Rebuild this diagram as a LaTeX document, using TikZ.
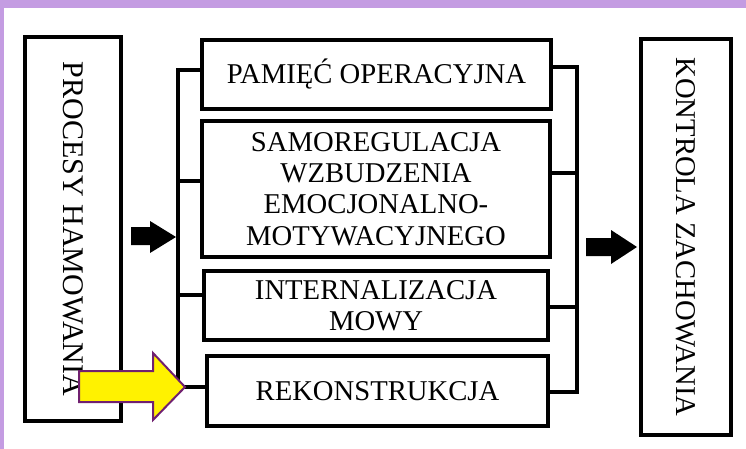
\documentclass[tikz,border=0pt]{standalone}
\usepackage{fontspec}
\setmainfont{Liberation Serif}
\tikzset{every picture/.style={line width=0.75pt}}
\definecolor{lavender}{RGB}{196,156,226}
\definecolor{plumline}{RGB}{112,32,112}

\begin{document}
\begin{tikzpicture}[x=0.75pt,y=0.75pt,yscale=-1,xscale=1,
  box/.style={draw, line width=3pt, inner sep=0pt, align=center, font=\fontsize{21.5}{23.5}\selectfont},
  wire/.style={line width=3pt}]
\useasboundingbox (0,0) rectangle (746,449);

%Frame
\fill[lavender] (0,0) rectangle (746,8);
\fill[lavender] (0,0) rectangle (4,449);

%Side boxes
\node[box, rotate=-90, minimum width=288pt, minimum height=72pt, font=\fontsize{22.5}{24}\selectfont] (procesy) at (73,229) {PROCESY HAMOWANIA};
\node[box, rotate=-90, minimum width=297pt, minimum height=67.5pt] (kontrola) at (686,237) {KONTROLA ZACHOWANIA};

%Middle boxes
\node[box, minimum width=261.75pt, minimum height=51.75pt] (pamiec) at (376.5,74.5) {PAMIĘĆ OPERACYJNA};
\node[box, minimum width=261pt, minimum height=102pt] (samoreg) at (376,189) {SAMOREGULACJA\\WZBUDZENIA\\EMOCJONALNO-\\MOTYWACYJNEGO};
\node[box, minimum width=258pt, minimum height=51.75pt] (internal) at (376,305.5) {INTERNALIZACJA\\MOWY};
\node[box, minimum width=255.75pt, minimum height=52.5pt] (rekon) at (377.5,391) {REKONSTRUKCJA};

%Brackets
\coordinate (lbar) at (178,0);
\coordinate (rbar) at (577,0);
\draw[wire] (pamiec.west |- 0,70) -- (lbar |- 0,70) -- (lbar |- 0,387) -- (rekon.west |- 0,387);
\draw[wire] (samoreg.west |- 0,181) -- (lbar |- 0,181);
\draw[wire] (internal.west |- 0,295) -- (lbar |- 0,295);
\draw[wire] (pamiec.east |- 0,67) -- (rbar |- 0,67) -- (rbar |- 0,392) -- (rekon.east |- 0,392);
\draw[wire] (samoreg.east |- 0,173) -- (rbar |- 0,173);
\draw[wire] (internal.east |- 0,307) -- (rbar |- 0,307);

%Block arrows
\fill (131,227) -- (150,227) -- (150,221) -- (176,237) -- (150,253) -- (150,245) -- (131,245) -- cycle;
\fill (586,238) -- (611,238) -- (611,230) -- (637,247) -- (611,264) -- (611,256) -- (586,256) -- cycle;
\draw[plumline, fill=yellow, line width=1.5pt] (79,371) -- (153,371) -- (153,353) -- (185,387) -- (153,420) -- (153,402) -- (79,402) -- cycle;

\end{tikzpicture}
\end{document}
